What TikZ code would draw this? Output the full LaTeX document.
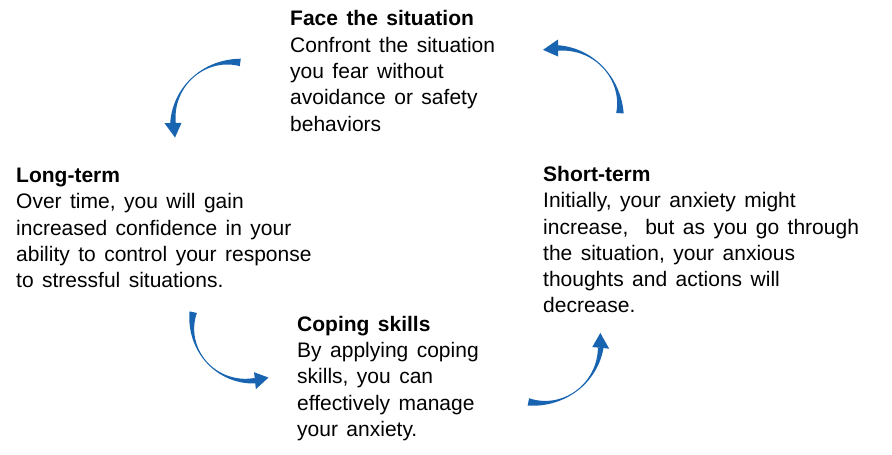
\documentclass[tikz,border=0pt]{standalone}
\usepackage{fontspec}
\setmainfont[WordSpace=1.45]{Liberation Sans}
\usetikzlibrary{math}

\definecolor{pfeilblau}{RGB}{24,100,176}

% Kreispfeil: Mitte x, Mitte y, Radius, Winkel Ende, Winkel Spitze
\newcommand{\kreispfeil}[5]{%
\pgfmathsetmacro{\kb}{#5+14}
\fill[pfeilblau] plot[domain=0:1,samples=60] ({#1+(#3+0.5*breite(\x))*cos(#4+\x*(\kb-#4))},{#2+(#3+0.5*breite(\x))*sin(#4+\x*(\kb-#4))})
  -- plot[domain=1:0,samples=60] ({#1+(#3-0.5*breite(\x))*cos(#4+\x*(\kb-#4))},{#2+(#3-0.5*breite(\x))*sin(#4+\x*(\kb-#4))}) -- cycle;
\fill[pfeilblau] ({#1+(#3+8.5)*cos(\kb)},{#2+(#3+8.5)*sin(\kb)}) -- ({#1+#3*cos(#5)},{#2+#3*sin(#5)})
  -- ({#1+(#3-8.5)*cos(\kb)},{#2+(#3-8.5)*sin(\kb)}) -- cycle;
}

\begin{document}

\begin{tikzpicture}[x=1pt,y=-1pt,
  declare function={breite(\s)=1+6.5*(1-2*\s)^2*(1-0.3*\s);},
  textblock/.style={align=left,inner sep=0pt,anchor=north west,
    font=\fontsize{21}{26.3}\selectfont}]

% Rahmen
\fill[white] (0,0) rectangle (892,455);
\useasboundingbox (0,0) rectangle (892,455);

% Texte
\node[textblock] (face) at (290,10.5) {\textbf{Face the situation}\\Confront the situation\\you fear without\\avoidance or safety\\behaviors};
\node[textblock] (short) at (543,166) {\textbf{Short-term}\\Initially, your anxiety might\\increase,\ \ but as you go through\\the situation, your anxious\\thoughts and actions will\\decrease.};
\node[textblock] (coping) at (297,315.8) {\textbf{Coping skills}\\By applying coping\\skills, you can\\effectively manage\\your anxiety.};
\node[textblock] (long) at (16,168) {\textbf{Long-term}\\Over time, you will gain\\increased confidence in your\\ability to control your response\\to stressful situations.};

% Pfeile
\kreispfeil{233}{122}{60}{277}{165}
\kreispfeil{558}{110}{62}{3}{-104}
\kreispfeil{540}{342}{61}{101}{-8.5}
\kreispfeil{249}{324}{57}{192}{70}

\end{tikzpicture}

\end{document}
